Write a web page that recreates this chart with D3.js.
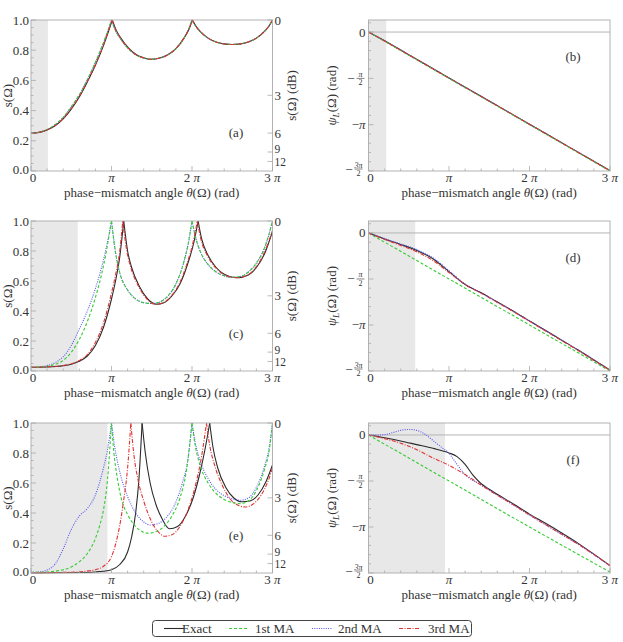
<!DOCTYPE html>
<html><head><meta charset="utf-8">
<script src="https://cdn.jsdelivr.net/npm/d3@7"></script>
<style>body{margin:0;background:#fff}svg{display:block}text{font-family:"Liberation Serif","DejaVu Serif",serif;fill:#333}</style>
</head><body><svg id="c" width="623" height="642"></svg>
<script>
// ---------- DATA (theta in units of pi) ----------
const xTicks = [0, 1, 2, 3];
const xTickLabels = ["0", "π", "2 π", "3 π"];
const sTicks = [0, 0.2, 0.4, 0.6, 0.8, 1.0];
const dbTicks = [0, 3, 6, 9, 12];
const psiTicks = [0, -0.5, -1, -1.5];
const seriesNames = ["Exact", "1st MA", "2nd MA", "3rd MA"];
const shadeWidths = {a: 0.21, b: 0.22, c: 0.58, d: 0.58, e: 0.95, f: 0.95};

// panel (a): s(Omega)
const A_exact = [[0,0.25],[0.1,0.256],[0.2,0.272],[0.3,0.30],[0.4,0.345],[0.5,0.41],[0.6,0.49],[0.7,0.59],[0.8,0.70],[0.9,0.83],[0.96,0.92],[1.01,1.0],[1.06,0.93],[1.11,0.885],[1.21,0.815],[1.31,0.77],[1.41,0.748],[1.49,0.74],[1.6,0.748],[1.7,0.77],[1.8,0.81],[1.9,0.88],[1.955,0.93],[2.005,1.0],[2.055,0.955],[2.1,0.925],[2.2,0.88],[2.3,0.855],[2.4,0.842],[2.5,0.838],[2.6,0.842],[2.7,0.855],[2.8,0.88],[2.9,0.925],[2.95,0.955],[3.0,1.0]];
const A_ma1 = [[0,0.25],[0.1,0.257],[0.2,0.275],[0.3,0.307],[0.4,0.355],[0.5,0.425],[0.6,0.505],[0.7,0.605],[0.8,0.72],[0.9,0.85],[0.95,0.92],[1.0,1.0],[1.05,0.93],[1.1,0.885],[1.2,0.815],[1.3,0.77],[1.4,0.748],[1.48,0.74],[1.6,0.748],[1.7,0.77],[1.8,0.81],[1.9,0.88],[1.95,0.93],[2.0,1.0],[2.05,0.955],[2.1,0.925],[2.2,0.88],[2.3,0.855],[2.4,0.842],[2.5,0.838],[2.6,0.842],[2.7,0.855],[2.8,0.88],[2.9,0.925],[2.95,0.955],[3.0,1.0]];
const A_ma2 = A_ma1;
const A_ma3 = [[0,0.25],[0.1,0.256],[0.2,0.273],[0.3,0.302],[0.4,0.348],[0.5,0.414],[0.6,0.495],[0.7,0.595],[0.8,0.705],[0.9,0.835],[0.955,0.92],[1.005,1.0],[1.055,0.93],[1.105,0.885],[1.205,0.815],[1.305,0.77],[1.405,0.748],[1.485,0.74],[1.6,0.748],[1.7,0.77],[1.8,0.81],[1.9,0.88],[1.952,0.93],[2.003,1.0],[2.053,0.955],[2.1,0.925],[2.2,0.88],[2.3,0.855],[2.4,0.842],[2.5,0.838],[2.6,0.842],[2.7,0.855],[2.8,0.88],[2.9,0.925],[2.95,0.955],[3.0,1.0]];

// panel (c)
const C_exact = [[0,0.025],[0.2,0.027],[0.4,0.035],[0.5,0.045],[0.6,0.065],[0.7,0.10],[0.8,0.17],[0.9,0.29],[1.0,0.48],[1.05,0.60],[1.1,0.75],[1.152,1.0],[1.2,0.80],[1.25,0.69],[1.35,0.56],[1.45,0.48],[1.56,0.445],[1.65,0.455],[1.75,0.50],[1.85,0.58],[1.95,0.72],[2.02,0.85],[2.076,1.0],[2.12,0.88],[2.2,0.77],[2.3,0.69],[2.4,0.645],[2.5,0.625],[2.57,0.622],[2.7,0.64],[2.8,0.69],[2.9,0.78],[3.0,0.93]];
const C_ma1 = [[0,0.025],[0.1,0.026],[0.2,0.032],[0.3,0.045],[0.4,0.07],[0.5,0.125],[0.6,0.21],[0.7,0.33],[0.8,0.49],[0.9,0.70],[0.95,0.84],[1.0,1.0],[1.05,0.79],[1.1,0.66],[1.2,0.54],[1.3,0.48],[1.4,0.455],[1.5,0.45],[1.6,0.46],[1.7,0.50],[1.8,0.58],[1.9,0.73],[1.95,0.84],[2.0,1.0],[2.05,0.88],[2.1,0.80],[2.2,0.71],[2.3,0.66],[2.4,0.635],[2.5,0.625],[2.6,0.63],[2.7,0.66],[2.8,0.72],[2.9,0.82],[2.95,0.90],[3.0,1.0]];
const C_ma2 = [[0,0.025],[0.1,0.027],[0.2,0.036],[0.3,0.056],[0.4,0.095],[0.5,0.17],[0.6,0.28],[0.7,0.40],[0.8,0.55],[0.9,0.74],[0.95,0.86],[1.0,1.0],[1.05,0.79],[1.1,0.66],[1.2,0.54],[1.3,0.48],[1.4,0.455],[1.5,0.45],[1.6,0.46],[1.7,0.50],[1.8,0.58],[1.9,0.73],[1.95,0.84],[2.0,1.0],[2.05,0.88],[2.1,0.80],[2.2,0.71],[2.3,0.66],[2.4,0.635],[2.5,0.625],[2.6,0.63],[2.7,0.66],[2.8,0.72],[2.9,0.82],[2.95,0.90],[3.0,1.0]];
const C_ma3 = [[0,0.025],[0.2,0.028],[0.4,0.037],[0.5,0.048],[0.6,0.07],[0.7,0.11],[0.8,0.19],[0.9,0.32],[1.0,0.52],[1.05,0.64],[1.1,0.79],[1.14,1.0],[1.19,0.80],[1.24,0.69],[1.34,0.56],[1.44,0.48],[1.55,0.445],[1.64,0.455],[1.74,0.50],[1.84,0.58],[1.94,0.72],[2.01,0.85],[2.066,1.0],[2.11,0.88],[2.19,0.77],[2.29,0.69],[2.39,0.645],[2.49,0.625],[2.56,0.622],[2.69,0.64],[2.79,0.69],[2.89,0.78],[3.0,0.935]];

// panel (e)
const E_exact = [[0,0.001],[0.6,0.003],[0.8,0.007],[0.9,0.012],[1.0,0.022],[1.1,0.055],[1.2,0.14],[1.25,0.24],[1.3,0.40],[1.34,0.62],[1.38,1.0],[1.42,0.80],[1.48,0.60],[1.55,0.46],[1.63,0.36],[1.72,0.295],[1.82,0.31],[1.92,0.38],[2.02,0.51],[2.1,0.67],[2.16,0.82],[2.22,1.0],[2.26,0.84],[2.32,0.70],[2.42,0.57],[2.52,0.50],[2.62,0.475],[2.72,0.48],[2.82,0.52],[2.92,0.61],[3.0,0.72]];
const E_ma1 = [[0,0.004],[0.2,0.007],[0.3,0.012],[0.4,0.022],[0.5,0.04],[0.6,0.075],[0.7,0.13],[0.8,0.23],[0.85,0.31],[0.9,0.42],[0.95,0.62],[1.0,1.0],[1.03,0.80],[1.07,0.64],[1.12,0.50],[1.2,0.39],[1.3,0.31],[1.4,0.272],[1.46,0.265],[1.55,0.275],[1.65,0.31],[1.75,0.38],[1.85,0.50],[1.93,0.68],[2.0,1.0],[2.04,0.85],[2.1,0.72],[2.2,0.60],[2.3,0.53],[2.4,0.49],[2.5,0.47],[2.6,0.462],[2.7,0.48],[2.8,0.55],[2.9,0.69],[2.96,0.82],[3.0,1.0]];
const E_ma2 = [[0,0.004],[0.1,0.007],[0.2,0.02],[0.3,0.06],[0.4,0.16],[0.5,0.29],[0.6,0.38],[0.7,0.43],[0.8,0.52],[0.9,0.70],[0.95,0.82],[1.0,1.0],[1.04,0.84],[1.1,0.68],[1.2,0.51],[1.3,0.40],[1.4,0.34],[1.48,0.32],[1.58,0.33],[1.68,0.37],[1.78,0.45],[1.88,0.60],[1.95,0.76],[2.0,1.0],[2.04,0.87],[2.1,0.75],[2.2,0.63],[2.3,0.555],[2.4,0.515],[2.5,0.495],[2.6,0.485],[2.7,0.50],[2.8,0.57],[2.9,0.71],[2.96,0.84],[3.0,1.0]];
const E_ma3 = [[0,0.002],[0.4,0.004],[0.6,0.008],[0.8,0.022],[0.9,0.045],[1.0,0.11],[1.05,0.19],[1.1,0.31],[1.15,0.48],[1.2,0.70],[1.24,1.0],[1.28,0.78],[1.33,0.62],[1.4,0.48],[1.5,0.34],[1.58,0.275],[1.66,0.245],[1.75,0.255],[1.85,0.31],[1.95,0.42],[2.05,0.60],[2.12,0.78],[2.18,1.0],[2.22,0.85],[2.28,0.72],[2.38,0.58],[2.48,0.49],[2.58,0.45],[2.66,0.44],[2.76,0.46],[2.86,0.52],[2.95,0.62],[3.0,0.70]];

// panel (b): psi_L in units of pi
const B_exact = [[0,0],[0.2,-0.095],[0.5,-0.245],[1,-0.495],[1.5,-0.745],[2,-0.995],[2.5,-1.245],[3,-1.495]];
const B_ma1 = [[0,0],[0.2,-0.10],[0.5,-0.25],[1,-0.5],[1.5,-0.75],[2,-1.0],[2.5,-1.25],[3,-1.5]];
const B_ma2 = [[0,0],[0.2,-0.095],[0.5,-0.245],[1,-0.495],[1.5,-0.745],[2,-0.995],[2.5,-1.245],[3,-1.495]];
const B_ma3 = [[0,0],[0.2,-0.096],[0.5,-0.246],[1,-0.496],[1.5,-0.746],[2,-0.996],[2.5,-1.246],[3,-1.496]];

// panel (d)
const D_exact = [[0,0],[0.2,-0.065],[0.4,-0.125],[0.6,-0.19],[0.8,-0.28],[1.0,-0.42],[1.2,-0.56],[1.4,-0.65],[1.6,-0.75],[1.8,-0.85],[2.0,-0.955],[2.2,-1.06],[2.4,-1.165],[2.6,-1.27],[2.8,-1.38],[3.0,-1.49]];
const D_ma1 = [[0,0],[1,-0.5],[2,-1.0],[3,-1.5]];
const D_ma2 = [[0,0],[0.2,-0.06],[0.4,-0.12],[0.6,-0.18],[0.8,-0.27],[1.0,-0.41],[1.2,-0.555],[1.4,-0.65],[1.6,-0.75],[1.8,-0.85],[2.0,-0.955],[2.2,-1.06],[2.4,-1.165],[2.6,-1.27],[2.8,-1.38],[3.0,-1.49]];
const D_ma3 = [[0,0],[0.2,-0.07],[0.4,-0.135],[0.6,-0.205],[0.8,-0.30],[1.0,-0.43],[1.2,-0.56],[1.4,-0.655],[1.6,-0.755],[1.8,-0.855],[2.0,-0.96],[2.2,-1.065],[2.4,-1.17],[2.6,-1.275],[2.8,-1.385],[3.0,-1.49]];

// panel (f)
const F_exact = [[0,0],[0.2,-0.03],[0.4,-0.065],[0.6,-0.105],[0.8,-0.145],[1.0,-0.195],[1.1,-0.235],[1.2,-0.32],[1.3,-0.44],[1.4,-0.53],[1.5,-0.59],[1.6,-0.645],[1.8,-0.75],[2.0,-0.86],[2.2,-0.96],[2.4,-1.065],[2.6,-1.175],[2.8,-1.295],[3.0,-1.42]];
const F_ma1 = [[0,0],[1,-0.5],[2,-1.0],[3,-1.49]];
const F_ma2 = [[0,0],[0.1,-0.002],[0.2,0.003],[0.3,0.025],[0.4,0.05],[0.5,0.06],[0.6,0.05],[0.7,0.01],[0.8,-0.06],[0.9,-0.13],[1.0,-0.20],[1.1,-0.32],[1.2,-0.43],[1.4,-0.545],[1.6,-0.655],[1.8,-0.76],[2.0,-0.87],[2.2,-0.975],[2.4,-1.08],[2.6,-1.185],[2.8,-1.30],[3.0,-1.42]];
const F_ma3 = [[0,0],[0.2,-0.04],[0.4,-0.09],[0.6,-0.16],[0.8,-0.25],[1.0,-0.33],[1.2,-0.43],[1.4,-0.545],[1.6,-0.655],[1.8,-0.76],[2.0,-0.87],[2.2,-0.975],[2.4,-1.08],[2.6,-1.185],[2.8,-1.30],[3.0,-1.42]];

// ---------- STYLE ----------
const styles = [
  {color: "#2a2a2a", dash: null},
  {color: "#33cc33", dash: "3,2"},
  {color: "#5555ee", dash: "1,1.3"},
  {color: "#e03333", dash: "4,1.5,1,1.5"}
];
const drawOrder = [0, 2, 1, 3];

const svg = d3.select("#c");
const frameCol = "#aaa";
const L = {x0: 31, x1: 272.5}, R = {x0: 368.5, x1: 610};
const rows = [{y0: 20, y1: 171}, {y0: 221, y1: 371}, {y0: 423, y1: 573}];

function minorTicks(step, lo, hi) { const r = []; for (let v = lo; v <= hi + 1e-9; v += step) r.push(+v.toFixed(4)); return r; }

function xAxis(g, x, y1) {
  minorTicks(0.2, 0, 3).forEach(v => {
    const major = Math.abs(v - Math.round(v)) < 1e-6;
    g.append("line").attr("x1", x(v)).attr("x2", x(v)).attr("y1", y1).attr("y2", y1 - (major ? 5 : 2.5)).attr("stroke", frameCol).attr("stroke-width", 0.8);
  });
  xTicks.forEach((v, i) => {
    const t = g.append("text").attr("x", x(v) + (i === 0 ? 2 : 0)).attr("y", y1 + 11).attr("text-anchor", "middle").attr("font-size", 13);
    if (i === 0) t.text(xTickLabels[0]);
    else { if (i > 1) t.append("tspan").text(String(i) + " "); t.append("tspan").attr("font-style", "italic").text("π"); }
  });
  const cx = (x.range()[0] + x.range()[1]) / 2;
  const tt = g.append("text").attr("x", cx).attr("y", y1 + 26).attr("text-anchor", "middle").attr("font-size", 13);
  tt.append("tspan").text("phase\u2212mismatch angle ");
  tt.append("tspan").attr("font-style", "italic").text("θ");
  tt.append("tspan").text("(Ω) (rad)");
}

function drawCurves(g, x, y, series, splitAtPeaks) {
  const line = d3.line().x(d => x(d[0])).y(d => y(d[1])).curve(d3.curveMonotoneX);
  drawOrder.forEach(k => {
    const data = series[k];
    let segs = [data];
    if (splitAtPeaks) {
      segs = []; let cur = [];
      data.forEach((p, i) => { cur.push(p); if (p[1] >= 0.9999 && i > 0 && i < data.length - 1) { segs.push(cur); cur = [p]; } });
      segs.push(cur);
    }
    segs.forEach(s => {
      g.append("path").attr("d", line(s)).attr("fill", "none").attr("stroke", styles[k].color)
        .attr("stroke-width", 1.1).attr("stroke-dasharray", styles[k].dash);
    });
  });
}

let clipId = 0;
function sPanel(row, series, shade, letter) {
  const g = svg.append("g");
  const x = d3.scaleLinear().domain([0, 3]).range([L.x0, L.x1]);
  const y = d3.scaleLinear().domain([0, 1]).range([row.y1, row.y0]);
  g.append("rect").attr("x", x(0)).attr("y", row.y0).attr("width", x(shade) - x(0)).attr("height", row.y1 - row.y0).attr("fill", "#e8e8e8");
  const id = "clip" + (clipId++);
  svg.append("clipPath").attr("id", id).append("rect").attr("x", L.x0).attr("y", row.y0 - 1).attr("width", L.x1 - L.x0).attr("height", row.y1 - row.y0 + 2);
  const cg = g.append("g").attr("clip-path", `url(#${id})`);
  drawCurves(cg, x, y, series, true);
  g.append("rect").attr("x", L.x0).attr("y", row.y0).attr("width", L.x1 - L.x0).attr("height", row.y1 - row.y0).attr("fill", "none").attr("stroke", frameCol).attr("stroke-width", 0.9);
  minorTicks(0.05, 0, 1).forEach(v => {
    const major = Math.abs(v * 5 - Math.round(v * 5)) < 1e-6;
    g.append("line").attr("x1", L.x0).attr("x2", L.x0 + (major ? 5 : 2.5)).attr("y1", y(v)).attr("y2", y(v)).attr("stroke", frameCol).attr("stroke-width", 0.8);
  });
  sTicks.forEach(v => g.append("text").attr("x", L.x0 - 2).attr("y", y(v) + (v === 0 ? 3 : 4.5)).attr("text-anchor", "end").attr("font-size", 13).text(v.toFixed(1)));
  dbTicks.forEach(db => {
    const s = Math.pow(10, -db / 10);
    g.append("line").attr("x1", L.x1).attr("x2", L.x1 - 5).attr("y1", y(s)).attr("y2", y(s)).attr("stroke", frameCol).attr("stroke-width", 0.8);
    const dy = db === 12 ? 4.5 : (db === 9 ? 1.5 : 4.5);
    g.append("text").attr("x", L.x1 + 2).attr("y", y(s) + dy).attr("font-size", db >= 9 ? 11.5 : 13).text(db);
  });
  xAxis(g, x, row.y1);
  const ym = (row.y0 + row.y1) / 2;
  g.append("text").attr("transform", `translate(12,${ym}) rotate(-90)`).attr("text-anchor", "middle").attr("font-size", 13).text("s(Ω)");
  g.append("text").attr("transform", `translate(296,${ym}) rotate(-90)`).attr("text-anchor", "middle").attr("font-size", 13).text("s(Ω) (dB)");
  g.append("text").attr("x", 236).attr("y", row.y0 + 117).attr("text-anchor", "middle").attr("font-size", 13).text(letter);
}

function psiPanel(row, series, shade, letter) {
  const g = svg.append("g");
  const x = d3.scaleLinear().domain([0, 3]).range([R.x0, R.x1]);
  const y = d3.scaleLinear().domain([-1.5, 0.13]).range([row.y1, row.y0]);
  g.append("rect").attr("x", x(0)).attr("y", row.y0).attr("width", x(shade) - x(0)).attr("height", row.y1 - row.y0).attr("fill", "#e8e8e8");
  g.append("line").attr("x1", R.x0).attr("x2", R.x1).attr("y1", y(0)).attr("y2", y(0)).attr("stroke", "#b5b5b5").attr("stroke-width", 1);
  const id = "clip" + (clipId++);
  svg.append("clipPath").attr("id", id).append("rect").attr("x", R.x0).attr("y", row.y0).attr("width", R.x1 - R.x0).attr("height", row.y1 - row.y0 + 1);
  const cg = g.append("g").attr("clip-path", `url(#${id})`);
  drawCurves(cg, x, y, series, false);
  g.append("rect").attr("x", R.x0).attr("y", row.y0).attr("width", R.x1 - R.x0).attr("height", row.y1 - row.y0).attr("fill", "none").attr("stroke", frameCol).attr("stroke-width", 0.9);
  minorTicks(0.1, -1.5, 0.1).forEach(v => {
    const major = Math.abs(v * 2 - Math.round(v * 2)) < 1e-6;
    g.append("line").attr("x1", R.x0).attr("x2", R.x0 + (major ? 5 : 2.5)).attr("y1", y(v)).attr("y2", y(v)).attr("stroke", frameCol).attr("stroke-width", 0.8);
  });
  psiTicks.forEach(v => {
    const yy = y(v), xr = R.x0 - 3;
    if (v === 0) g.append("text").attr("x", xr).attr("y", yy + 4.5).attr("text-anchor", "end").attr("font-size", 13).text("0");
    else if (v === -1) {
      const t = g.append("text").attr("x", xr).attr("y", yy + 4.5).attr("text-anchor", "end").attr("font-size", 13);
      t.append("tspan").text("\u2212"); t.append("tspan").attr("font-style", "italic").text("π");
    } else {
      const num = v === -0.5 ? "π" : "3π";
      const fx = v === -0.5 ? xr - 5 : xr - 7;
      const dyo = v === -0.5 ? 0 : -2;
      g.append("text").attr("x", fx).attr("y", yy - 1.5 + dyo).attr("text-anchor", "middle").attr("font-size", 8).attr("font-style", "italic").text(num);
      g.append("line").attr("x1", fx - 4).attr("x2", fx + 4).attr("y1", yy + dyo).attr("y2", yy + dyo).attr("stroke", "#333").attr("stroke-width", 0.6);
      g.append("text").attr("x", fx).attr("y", yy + 7 + dyo).attr("text-anchor", "middle").attr("font-size", 8).text("2");
      g.append("text").attr("x", fx - 6).attr("y", yy + 4.5 + dyo).attr("text-anchor", "end").attr("font-size", 13).text("\u2212");
    }
  });
  xAxis(g, x, row.y1);
  const ym = (row.y0 + row.y1) / 2;
  const yt = g.append("text").attr("transform", `translate(336,${ym}) rotate(-90)`).attr("text-anchor", "middle").attr("font-size", 13);
  yt.append("tspan").attr("font-style", "italic").text("ψ");
  yt.append("tspan").attr("font-style", "italic").attr("font-size", 9).attr("dy", 3).text("L");
  yt.append("tspan").attr("dy", -3).text("(Ω) (rad)");
  g.append("text").attr("x", 573).attr("y", row.y0 + 41).attr("text-anchor", "middle").attr("font-size", 13).text(letter);
}

sPanel(rows[0], [A_exact, A_ma1, A_ma2, A_ma3], shadeWidths.a, "(a)");
psiPanel(rows[0], [B_exact, B_ma1, B_ma2, B_ma3], shadeWidths.b, "(b)");
sPanel(rows[1], [C_exact, C_ma1, C_ma2, C_ma3], shadeWidths.c, "(c)");
psiPanel(rows[1], [D_exact, D_ma1, D_ma2, D_ma3], shadeWidths.d, "(d)");
sPanel(rows[2], [E_exact, E_ma1, E_ma2, E_ma3], shadeWidths.e, "(e)");
psiPanel(rows[2], [F_exact, F_ma1, F_ma2, F_ma3], shadeWidths.f, "(f)");

// ---------- LEGEND ----------
const lg = svg.append("g");
lg.append("rect").attr("x", 152.5).attr("y", 620.5).attr("width", 319).attr("height", 16).attr("rx", 3).attr("fill", "#fff").attr("stroke", "#444").attr("stroke-width", 1);
const legX = [{l: 164, t: 182}, {l: 229, t: 255}, {l: 312, t: 338}, {l: 399, t: 428}];
seriesNames.forEach((n, k) => {
  lg.append("line").attr("x1", legX[k].l).attr("x2", legX[k].l + 20).attr("y1", 628.5).attr("y2", 628.5)
    .attr("stroke", styles[k].color).attr("stroke-width", 1.1).attr("stroke-dasharray", styles[k].dash);
  lg.append("text").attr("x", legX[k].t).attr("y", 633).attr("font-size", 13).text(n);
});
</script></body></html>
